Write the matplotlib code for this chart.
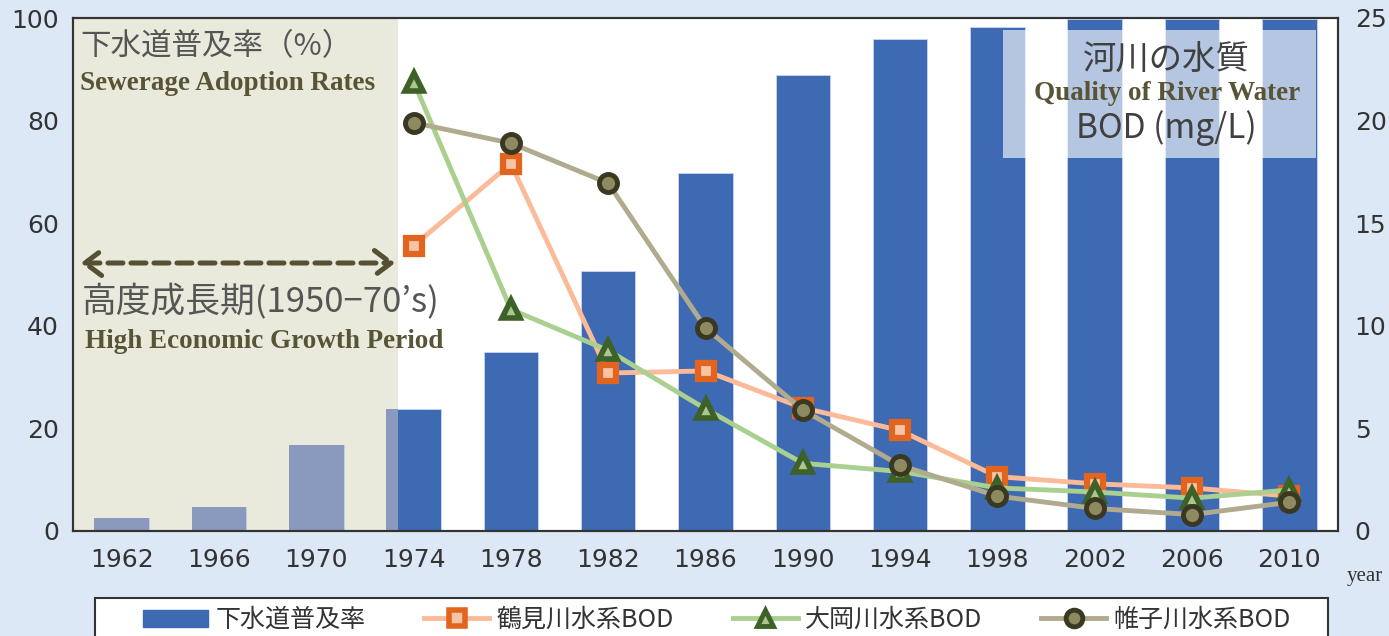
import matplotlib
matplotlib.use("Agg")
import matplotlib.pyplot as plt
import matplotlib.patches as patches
from matplotlib.lines import Line2D
import numpy as np

plt.rcParams['font.family'] = ['Noto Sans CJK JP', 'DejaVu Sans']

years = [1962, 1966, 1970, 1974, 1978, 1982, 1986, 1990, 1994, 1998, 2002, 2006, 2010]
sewerage = [2.5, 4.7, 16.8, 23.8, 34.9, 50.7, 69.8, 88.9, 95.9, 98.2, 99.8, 99.8, 99.8]
bod_years = years[3:]
tsurumi = [13.9, 17.9, 7.7, 7.8, 6.0, 4.9, 2.65, 2.3, 2.1, 1.7]
ooka = [21.9, 10.8, 8.8, 5.95, 3.3, 2.9, 2.1, 1.9, 1.6, 2.0]
katabira = [19.9, 18.9, 16.95, 9.9, 5.9, 3.2, 1.7, 1.1, 0.8, 1.4]

bg = '#dce8f6'
bar_col = '#3d6ab3'
olive_txt = '#5a5436'

W, H = 1389, 636
fig = plt.figure(figsize=(W / 100, H / 100), dpi=100, facecolor=bg)
ax = fig.add_axes([73 / W, 1 - 531 / H, (1338 - 73) / W, (531 - 18) / H])
ax.set_facecolor('white')

x = np.arange(len(years))
bx = np.arange(3, len(years))

# high growth period shading
span = ax.axvspan(-0.5, 2.84, color='#e9e9dc', zorder=0, lw=0)

ax.bar(x, sewerage, width=0.56, color=bar_col, edgecolor='#c9d5ee', linewidth=0.6, zorder=1)
grey = ax.bar(x, sewerage, width=0.56, color='#8a9abf', linewidth=0, zorder=1.5)
for b in grey:
    b.set_clip_path(span)

ax.set_xlim(-0.5, len(years) - 0.5)
ax.set_ylim(0, 100)
ax.set_yticks(range(0, 101, 20))
ax.set_xticks(x)
ax.set_xticklabels([str(y) for y in years])

ax2 = ax.twinx()
ax2.set_ylim(0, 25)
ax2.set_yticks(range(0, 26, 5))

ax2.plot(bx, tsurumi, color='#fbbb98', lw=3.5, marker='s', ms=12,
         mfc='#f9c4a5', mec='#e2651f', mew=4.5, zorder=3)
ax2.plot(bx, ooka, color='#a9d08e', lw=3.5, marker='^', ms=13,
         mfc='#a8c890', mec='#3e6127', mew=4, zorder=4)
ax2.plot(bx, katabira, color='#b0ab8e', lw=3.5, marker='o', ms=13,
         mfc='#8d8a62', mec='#3b3822', mew=3.5, zorder=5)

for a in (ax, ax2):
    a.tick_params(length=0, labelsize=18, labelcolor='#333333')
    for s in a.spines.values():
        s.set_color('#333333')
        s.set_linewidth(1.5)
    for lab in a.get_yticklabels() + a.get_xticklabels():
        lab.set_family('DejaVu Sans')
ax.tick_params(axis='y', pad=10)
ax2.tick_params(axis='y', pad=12)
ax.tick_params(axis='x', pad=12)

# river water label box
ax2.add_patch(patches.Rectangle((0.735, 0.727), 0.248, 0.25, transform=ax.transAxes,
                                facecolor='white', alpha=0.62, lw=0, zorder=6))

def fx(px):
    return px / W

def fy(py):
    return 1 - py / H

fig.text(fx(1166), fy(60), '河川の水質', fontsize=24, color='#404040', ha='center', va='center', zorder=10)
fig.text(fx(1167), fy(93), 'Quality of River Water', fontsize=19.5, family='Liberation Serif',
         weight='bold', color=olive_txt, ha='center', va='center', zorder=10)
fig.text(fx(1166), fy(128), 'BOD (mg/L)', fontsize=24, color='#404040', ha='center', va='center', zorder=10)

fig.text(fx(80), fy(47), '下水道普及率（%）', fontsize=22, color='#555555', ha='left', va='center')
fig.text(fx(80), fy(84), 'Sewerage Adoption Rates', fontsize=19.5, family='Liberation Serif',
         weight='bold', color=olive_txt, ha='left', va='center')
fig.text(fx(82), fy(302), '高度成長期(1950−70’s)', fontsize=25, color='#555555', ha='left', va='center')
fig.text(fx(85), fy(341), 'High Economic Growth Period', fontsize=19.5, family='Liberation Serif',
         weight='bold', color=olive_txt, ha='left', va='center')

arr = patches.FancyArrowPatch((fx(78), fy(263)), (fx(398), fy(263)), transform=fig.transFigure,
                              arrowstyle='<->,head_length=12,head_width=9', linestyle=(0, (3, 1.6)),
                              color='#545031', lw=3.6, mutation_scale=1)
fig.patches.append(arr)

fig.text(fx(1365), fy(577), 'year', fontsize=15, family='Liberation Serif', color='#333333',
         ha='center', va='center')

# legend
fig.patches.append(patches.Rectangle((fx(95), -0.05), fx(1328) - fx(95), fy(598) + 0.05,
                                     transform=fig.transFigure, facecolor='white',
                                     edgecolor='#333333', lw=1.5))
handles = [
    patches.Patch(color=bar_col),
    Line2D([], [], color='#fbbb98', lw=3.5, marker='s', ms=11, mfc='#f9c4a5', mec='#e2651f', mew=4),
    Line2D([], [], color='#a9d08e', lw=3.5, marker='^', ms=12, mfc='#a8c890', mec='#3e6127', mew=3.5),
    Line2D([], [], color='#b0ab8e', lw=3.5, marker='o', ms=12, mfc='#8d8a62', mec='#3b3822', mew=3.5),
]
labels = ['下水道普及率', '鶴見川水系BOD', '大岡川水系BOD', '帷子川水系BOD']
fig.legend(handles, labels, loc='center left', bbox_to_anchor=(fx(143), fy(620)), ncol=4,
           frameon=False, fontsize=18, handlelength=2.6, handleheight=0.7, handletextpad=0.3,
           columnspacing=2.35, borderpad=0, borderaxespad=0, labelcolor='#333333')

fig.savefig('out.png', dpi=100, facecolor=bg)
